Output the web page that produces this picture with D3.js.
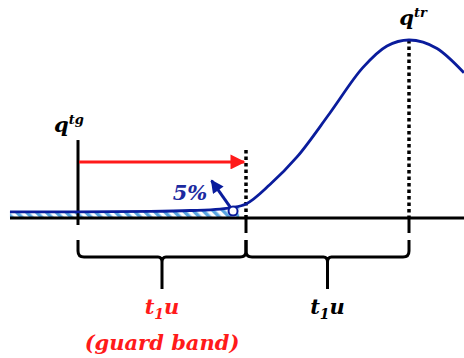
<!DOCTYPE html>
<html>
<head>
<meta charset="utf-8">
<script src="https://cdn.jsdelivr.net/npm/d3@7"></script>
<style>
  html, body { margin: 0; padding: 0; background: #fff; }
  svg { display: block; }
  svg text { font-family: "DejaVu Serif", "Liberation Serif", serif; font-weight: 700; font-style: italic; }
</style>
</head>
<body>
<div class="chart-box"></div>
<script>
// curve (t in units of t1u from q^tg, v relative to peak)
var curveT = [-0.405, 0, 0.43, 0.667, 0.845, 0.923, 1.0, 1.147, 1.313, 1.515, 1.718, 1.865, 2.0, 2.172, 2.337];
var curveV = [0.034, 0.034, 0.037, 0.042, 0.05, 0.059, 0.079, 0.188, 0.343, 0.59, 0.846, 0.966, 1.0, 0.952, 0.816];

var markT = [0, 1, 2];            // q^tg, end of guard band, q^tr
var braceT = [[0, 1], [1, 2]];
var braceLabels = ["t1u", "t1u"];
var tailEnd = 0.96;               // hatched 5% tail
var pct = "5%";

var width = 464, height = 358;

var x = d3.scaleLinear().domain(markT).range([78, 246, 409]);
var y = d3.scaleLinear().domain([0, 1]).range([218, 40]);

var svg = d3.select(".chart-box").append("svg")
    .attr("width", width)
    .attr("height", height);

var defs = svg.append("defs");
var pat = defs.append("pattern")
    .attr("id", "hatch")
    .attr("patternUnits", "userSpaceOnUse")
    .attr("width", 7)
    .attr("height", 7)
    .attr("patternTransform", "rotate(-45)");
pat.append("rect").attr("width", 7).attr("height", 7).attr("fill", "#fff");
pat.append("rect").attr("width", 3.5).attr("height", 7).attr("fill", "#5aa7e2");

function marker(id, color, w, h) {
  defs.append("marker")
      .attr("id", id)
      .attr("viewBox", "0 0 10 10")
      .attr("refX", 9).attr("refY", 5)
      .attr("markerUnits", "userSpaceOnUse")
      .attr("markerWidth", w).attr("markerHeight", h)
      .attr("orient", "auto")
    .append("path")
      .attr("d", "M0,0L10,5L0,10Z")
      .attr("fill", color);
}
marker("redhead", "#ff1a1a", 20, 15);
marker("bluehead", "#0a1c9c", 14, 13);

var pts = curveT.map(function(t, i) { return { t: t, v: curveV[i] }; });

// hatched tail under the curve
var tail = pts.filter(function(d) { return d.t <= tailEnd; });
var last = pts.findIndex(function(d) { return d.t > tailEnd; });
var a = pts[last - 1], b = pts[last];
tail.push({ t: tailEnd, v: a.v + (b.v - a.v) * (tailEnd - a.t) / (b.t - a.t) });

svg.append("path")
    .datum(tail)
    .attr("fill", "url(#hatch)")
    .attr("d", d3.area()
        .x(function(d) { return x(d.t); })
        .y0(y(0))
        .y1(function(d) { return y(d.v); })
        .curve(d3.curveMonotoneX));

// axis
svg.append("line")
    .attr("x1", 10).attr("x2", width)
    .attr("y1", y(0)).attr("y2", y(0))
    .attr("stroke", "#000").attr("stroke-width", 3);

// q^tg solid line
svg.append("line")
    .attr("x1", x(0)).attr("x2", x(0))
    .attr("y1", y(0.438)).attr("y2", y(0) + 7)
    .attr("stroke", "#000").attr("stroke-width", 3);

// dotted lines
[[1, 0.382], [2, 1.0]].forEach(function(d) {
  svg.append("line")
      .attr("x1", x(d[0])).attr("x2", x(d[0]))
      .attr("y1", y(d[1])).attr("y2", y(0))
      .attr("stroke", "#000").attr("stroke-width", 3.5)
      .attr("stroke-dasharray", "3.5,3");
  svg.append("line")
      .attr("x1", x(d[0])).attr("x2", x(d[0]))
      .attr("y1", y(0)).attr("y2", y(0) + 15)
      .attr("stroke", "#000").attr("stroke-width", 3);
});

// curve
svg.append("path")
    .datum(pts)
    .attr("fill", "none")
    .attr("stroke", "#0a1c9c")
    .attr("stroke-width", 2.8)
    .attr("d", d3.line()
        .x(function(d) { return x(d.t); })
        .y(function(d) { return y(d.v); })
        .curve(d3.curveMonotoneX));

// red arrow
svg.append("line")
    .attr("x1", x(0) + 1).attr("x2", x(1) - 2)
    .attr("y1", y(0.315)).attr("y2", y(0.315))
    .attr("stroke", "#ff1a1a").attr("stroke-width", 3)
    .attr("marker-end", "url(#redhead)");

// 5% arrow + circle
var circ = { t: 0.923, v: 0.039 }, tip = { t: 0.795, v: 0.21 };
svg.append("line")
    .attr("x1", x(circ.t)).attr("y1", y(circ.v))
    .attr("x2", x(tip.t)).attr("y2", y(tip.v))
    .attr("stroke", "#0a1c9c").attr("stroke-width", 3)
    .attr("marker-end", "url(#bluehead)");
svg.append("circle")
    .attr("cx", x(circ.t)).attr("cy", y(circ.v))
    .attr("r", 4.5)
    .attr("fill", "#fff")
    .attr("stroke", "#0a1c9c").attr("stroke-width", 2);
svg.append("text")
    .attr("x", 190).attr("y", 200)
    .attr("text-anchor", "middle")
    .attr("font-size", 21)
    .attr("fill", "#1c2aa0")
    .text(pct);

// q labels
function qLabel(cx, base, sup) {
  var t = svg.append("text")
      .attr("x", cx).attr("y", base)
      .attr("text-anchor", "middle")
      .attr("font-size", 21)
      .attr("fill", "#000");
  t.append("tspan").text("q");
  t.append("tspan").attr("font-size", 13).attr("dy", -8).text(sup);
}
qLabel(x(0) - 9, 132, "tg");
qLabel(x(2) + 4, 25, "tr");

// braces
var by0 = 240, by1 = 257, by2 = 289, r = 6;
braceT.forEach(function(d, i) {
  var x0 = x(d[0]), x1 = x(d[1]), xm = (x0 + x1) / 2;
  var path = d3.path();
  path.moveTo(x0, by0);
  path.lineTo(x0, by1 - r);
  path.quadraticCurveTo(x0, by1, x0 + r, by1);
  path.lineTo(xm - 4, by1);
  path.quadraticCurveTo(xm, by1, xm, by1 + 5);
  path.lineTo(xm, by2);
  path.moveTo(xm, by1 + 5);
  path.quadraticCurveTo(xm, by1, xm + 4, by1);
  path.lineTo(x1 - r, by1);
  path.quadraticCurveTo(x1, by1, x1, by1 - r);
  path.lineTo(x1, by0);
  svg.append("path")
      .attr("d", path.toString())
      .attr("fill", "none")
      .attr("stroke", "#000").attr("stroke-width", 3);

  var col = i === 0 ? "#ff1a1a" : "#000";
  var t = svg.append("text")
      .attr("x", xm).attr("y", 314)
      .attr("text-anchor", "middle")
      .attr("font-size", 21)
      .attr("fill", col);
  t.append("tspan").text(braceLabels[i].charAt(0));
  t.append("tspan").attr("font-size", 14).attr("dy", 5).text(braceLabels[i].charAt(1));
  t.append("tspan").attr("dy", -5).text(braceLabels[i].slice(2));
  if (i === 0) {
    svg.append("text")
        .attr("x", xm).attr("y", 350)
        .attr("text-anchor", "middle")
        .attr("font-size", 21)
        .attr("fill", col)
        .text("(guard band)");
  }
});
</script>
</body>
</html>
